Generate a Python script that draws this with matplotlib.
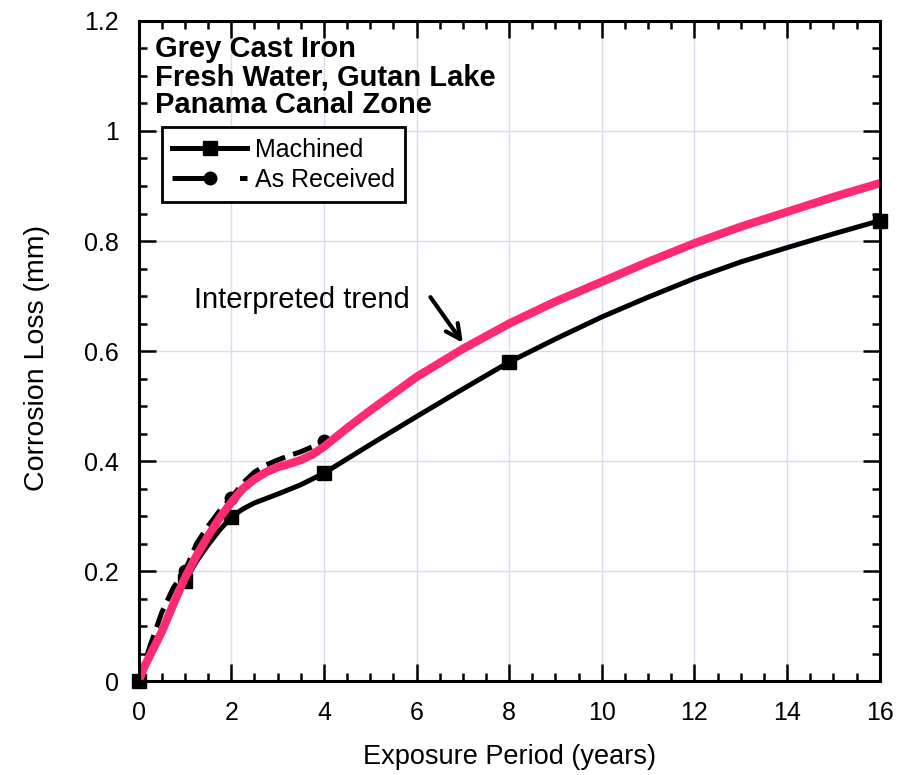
import matplotlib
matplotlib.use("Agg")
import matplotlib.pyplot as plt
from matplotlib.ticker import MultipleLocator
from matplotlib.lines import Line2D

plt.rcParams['font.family'] = ['Liberation Sans', 'DejaVu Sans']

# measured points
mach_x = [0, 1, 2, 4, 8, 16]
mach_y = [0.0, 0.182, 0.298, 0.378, 0.58, 0.837]
recv_x = [0, 1, 2, 4]
recv_y = [0.0, 0.20, 0.333, 0.437]

# curves
mach_curve_x = [0, 0.25, 0.5, 0.75, 1, 1.25, 1.5, 1.75, 2, 2.25, 2.5, 3, 3.5, 4,
                5, 6, 7, 8, 9, 10, 11, 12, 13, 14, 15, 16]
mach_curve_y = [0.0, 0.048, 0.092, 0.138, 0.182, 0.218, 0.248, 0.275, 0.298, 0.313,
                0.324, 0.34, 0.357, 0.378, 0.43, 0.481, 0.531, 0.58, 0.622, 0.662,
                0.698, 0.732, 0.762, 0.788, 0.813, 0.837]
recv_curve_x = [0, 0.25, 0.5, 0.75, 1, 1.25, 1.5, 1.75, 2, 2.25, 2.5, 2.75, 3,
                3.25, 3.5, 3.75, 4]
recv_curve_y = [0.0, 0.065, 0.125, 0.17, 0.20, 0.25, 0.282, 0.31, 0.333, 0.36,
                0.38, 0.393, 0.402, 0.41, 0.417, 0.426, 0.437]
trend_x = [0, 0.1, 0.25, 0.5, 0.75, 1, 1.25, 1.5, 1.75, 2, 2.25, 2.5, 2.75, 3, 3.25,
           3.5, 3.75, 4, 4.5, 5, 6, 7, 8, 9, 10, 11, 12, 13, 14, 15, 16]
trend_y = [0.0, 0.022, 0.048, 0.09, 0.14, 0.188, 0.228, 0.264, 0.297, 0.325, 0.35,
           0.367, 0.38, 0.389, 0.395, 0.402, 0.412, 0.426, 0.46, 0.492, 0.553,
           0.604, 0.65, 0.69, 0.726, 0.762, 0.796, 0.826, 0.853, 0.88, 0.905]

fig = plt.figure(figsize=(9.06, 7.75), dpi=100)
ax = fig.add_axes([0.153, 0.121, 0.818, 0.852])

ax.plot(recv_curve_x, recv_curve_y, color='black', lw=3.6, ls=(0, (4, 1.7)))
ax.plot(recv_x, recv_y, 'o', color='black', ms=9)
ax.plot(mach_curve_x, mach_curve_y, color='black', lw=3.6, solid_joinstyle='round')
ax.plot(mach_x, mach_y, 's', color='black', ms=10, clip_on=False)
ax.plot(trend_x, trend_y, color='#ff2a72', lw=6, solid_capstyle='round',
        solid_joinstyle='round')

ax.set_xlim(0, 16)
ax.set_ylim(0, 1.2)
ax.xaxis.set_major_locator(MultipleLocator(2))
ax.xaxis.set_minor_locator(MultipleLocator(0.5))
ax.yaxis.set_minor_locator(MultipleLocator(0.05))
ax.set_yticks([0, 0.2, 0.4, 0.6, 0.8, 1, 1.2])
ax.set_yticklabels(['0', '0.2', '0.4', '0.6', '0.8', '1', '1.2'])
ax.tick_params(which='both', direction='in', top=True, right=True, width=1.8,
               labelsize=18)
ax.tick_params(axis='x', pad=14)
ax.tick_params(axis='y', pad=14)
ax.tick_params(which='major', length=12)
ax.tick_params(which='minor', length=6)
for s in ax.spines.values():
    s.set_linewidth(2.2)
ax.grid(True, which='major', color='#dadaf6', lw=1)
ax.set_axisbelow(True)

ax.set_xlabel('Exposure Period (years)', fontsize=19.5, labelpad=14)
ax.set_ylabel('Corrosion Loss (mm)', fontsize=20.5)
ax.yaxis.set_label_coords(-0.12, 0.49)

ax.text(0.022, 0.978, 'Grey Cast Iron\nFresh Water, Gutan Lake\nPanama Canal Zone',
        transform=ax.transAxes, fontsize=21, fontweight='bold', va='top',
        linespacing=1.0)

leg_h1 = Line2D([], [], marker='s', color='black', lw=3.6, ms=10)
leg_h2 = Line2D([], [], marker='o', color='black', lw=3.6, ms=9, ls=(0, (7.5, 6)))
leg = ax.legend([leg_h1, leg_h2], ['Machined', 'As Received'],
                loc='upper left', bbox_to_anchor=(0.031, 0.839), borderaxespad=0,
                fontsize=18, frameon=True, fancybox=False, edgecolor='black',
                framealpha=1, handlelength=3.0, handletextpad=0.3, borderpad=0.42,
                labelspacing=0.25)
leg.get_frame().set_linewidth(2)

ax.text(1.2, 0.693, 'Interpreted trend', fontsize=21, va='center')
ax.annotate('', xy=(7.0, 0.615), xytext=(6.3, 0.698),
            arrowprops=dict(arrowstyle='->', lw=3, color='black',
                            shrinkA=0, shrinkB=0, mutation_scale=26))

fig.savefig('out.png', dpi=100)
